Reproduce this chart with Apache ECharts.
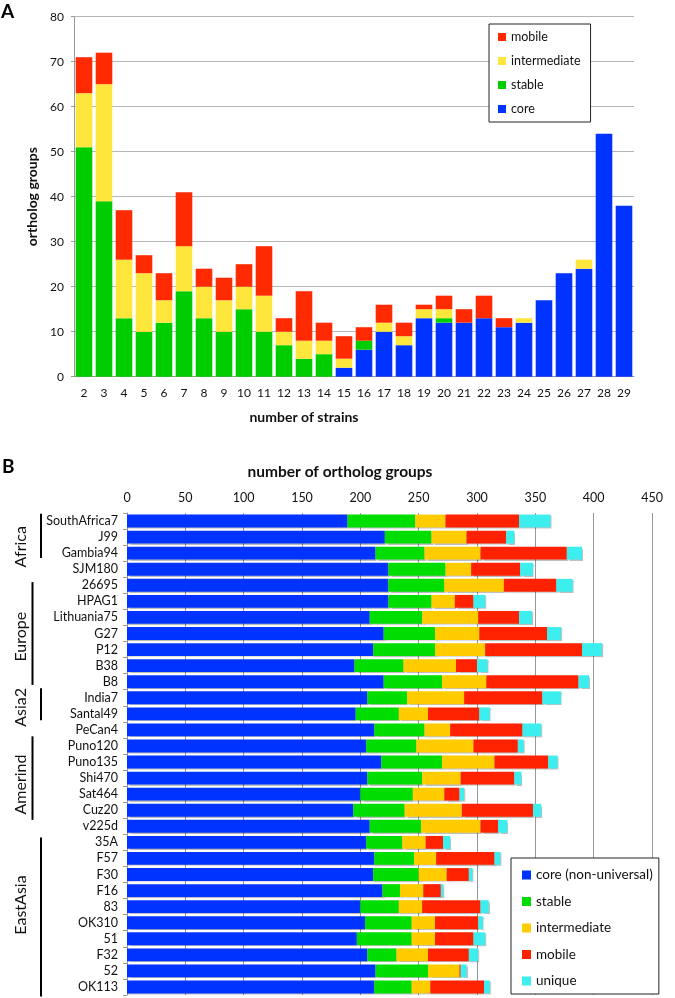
<!DOCTYPE html>
<html><head><meta charset="utf-8">
<script src="https://cdn.jsdelivr.net/npm/echarts@6/dist/echarts.min.js"></script>
<style>html,body{margin:0;padding:0;background:#fff}#c{width:675px;height:998px}</style>
</head><body><div id="c"></div>
<script>
// ---------- Panel A data ----------
const strainCounts = ['2','3','4','5','6','7','8','9','10','11','12','13','14','15','16','17','18','19','20','21','22','23','24','25','26','27','28','29'];
const coreA =         [0,0,0,0,0,0,0,0,0,0,0,0,0, 2,6,10,7,13,12,12,13,11,12,17,23,24,54,38];
const stableA =       [51,39,13,10,12,19,13,10,15,10,7,4,5, 0,2,0,0,0,1, 0,0,0,0,0,0,0,0,0];
const intermediateA = [12,26,13,13,5,10,7,7,5,8,3,4,3, 2,0,2,2,2,2,0,0,0,1,0,0,2,0,0];
const mobileA =       [8,7,11,4,6,12,4,5,5,11,3,11,4, 5,3,4,3,1,3,3,5,2,0,0,0,0,0,0];
const yTicksA = [0,10,20,30,40,50,60,70,80];

// ---------- Panel B data ----------
const strains = ['SouthAfrica7','J99','Gambia94','SJM180','26695','HPAG1','Lithuania75','G27','P12','B38','B8','India7','Santal49','PeCan4','Puno120','Puno135','Shi470','Sat464','Cuz20','v225d','35A','F57','F30','F16','83','OK310','51','F32','52','OK113'];
const coreB =         [189,221,213,224,224,224,208,220,211,195,220,206,196,212,205,218,206,200,194,208,205,212,211,219,200,204,197,206,213,212];
const stableB =       [58,40,42,49,48,37,45,44,53,42,50,34,37,43,43,52,47,45,44,44,31,34,39,15,33,40,47,25,45,32];
const intermediateB = [26,30,48,22,51,20,48,38,43,45,38,49,25,22,49,45,33,27,49,51,20,19,24,20,20,20,20,27,27,16];
const mobileB =       [63,34,74,42,45,16,35,58,83,18,79,67,44,62,38,46,46,13,61,15,15,50,19,15,50,37,33,35,1,46];
const uniqueB =       [27,7,13,11,14,10,11,12,17,9,9,16,9,16,5,8,6,4,7,8,6,5,3,2,7,4,10,8,5,5];
const xTicksB = [0,50,100,150,200,250,300,350,400,450];
const regions = [
  {name:'Africa',   from:'SouthAfrica7', to:'SJM180'},
  {name:'Europe',   from:'26695',        to:'B8'},
  {name:'Asia2',    from:'India7',       to:'Santal49'},
  {name:'Amerind',  from:'PeCan4',       to:'v225d'},
  {name:'EastAsia', from:'35A',          to:'OK113'}
];

const FONT = 'Lato, "Open Sans", sans-serif';
const C = {
  coreA:'#0033FF', stableA:'#00CC00', interA:'#FFE63C', mobileA:'#FF2A00',
  coreB:'#0033FF', stableB:'#00DD00', interB:'#FFCC00', mobileB:'#FF2200', uniqueB:'#3CEEEE'
};

const chart = echarts.init(document.getElementById('c'), null, {renderer:'canvas'});

function barA(name, data, color){
  return {name, type:'bar', stack:'A', xAxisIndex:0, yAxisIndex:0, data,
    barCategoryGap:'17%', itemStyle:{color}, emphasis:{disabled:true}};
}
function barB(name, data, color){
  return {name, type:'bar', stack:'B', xAxisIndex:1, yAxisIndex:1, data,
    barCategoryGap:'20%', itemStyle:{color, shadowColor:'rgba(0,0,0,0.25)', shadowBlur:1, shadowOffsetY:1, shadowOffsetX:1}, emphasis:{disabled:true}};
}
// names in panel B made distinct with zero-width space so legend colours stay separate
const ZW = '\u200B';

const option = {
  animation:false,
  textStyle:{fontFamily:FONT},
  grid:[
    {left:74, top:16.7, width:560, height:360},
    {left:127, top:513, width:525, height:482}
  ],
  xAxis:[
    {type:'category', gridIndex:0, data:strainCounts,
     axisLine:{lineStyle:{color:'#999'}},
     axisTick:{alignWithLabel:false, length:4, lineStyle:{color:'#999'}},
     axisLabel:{color:'#111', fontSize:12, margin:10, interval:0, fontFamily:FONT}},
    {type:'value', gridIndex:1, position:'top', min:0, max:450, interval:50,
     axisLine:{show:false}, axisTick:{show:false},
     axisLabel:{color:'#111', fontSize:12.5, margin:9, fontFamily:FONT},
     splitLine:{show:true, lineStyle:{color:'#999', width:1}}}
  ],
  yAxis:[
    {type:'value', gridIndex:0, min:0, max:80, interval:10,
     axisLine:{show:true, lineStyle:{color:'#999'}},
     axisTick:{show:true, length:3, lineStyle:{color:'#999'}},
     axisLabel:{color:'#111', fontSize:12, margin:10, fontFamily:FONT},
     splitLine:{show:true, lineStyle:{color:'#b5b5b5', width:1}},
     name:'ortholog groups', nameLocation:'middle', nameGap:23,
     nameTextStyle:{fontWeight:'bold', fontSize:14, color:'#111', fontFamily:FONT}},
    {type:'category', gridIndex:1, data:strains, inverse:true,
     axisLine:{show:true, lineStyle:{color:'#999'}},
     axisTick:{show:true, length:4, lineStyle:{color:'#999'}},
     axisLabel:{color:'#111', fontSize:12.5, margin:9, interval:0, fontFamily:FONT}}
  ],
  legend:[
    {data:['mobile','intermediate','stable','core'], orient:'vertical', left:489, top:24,
     itemWidth:8, itemHeight:8, itemGap:10, icon:'rect', padding:[6,10,6,9],
     borderColor:'#222', borderWidth:1, backgroundColor:'#fff',
     textStyle:{fontSize:12.5, color:'#111', fontFamily:FONT, lineHeight:14}, selectedMode:false},
    {data:['core (non-universal)','stable'+ZW,'intermediate'+ZW,'mobile'+ZW,'unique'], orient:'vertical', left:511, top:858,
     itemWidth:9, itemHeight:9, itemGap:10.5, icon:'rect', padding:[9,6,5,11],
     borderColor:'#222', borderWidth:1, backgroundColor:'#fff',
     textStyle:{fontSize:13.5, color:'#111', fontFamily:FONT, lineHeight:16}, selectedMode:false}
  ],
  series:[
    barA('core', coreA, C.coreA),
    barA('stable', stableA, C.stableA),
    barA('intermediate', intermediateA, C.interA),
    barA('mobile', mobileA, C.mobileA),
    barB('core (non-universal)', coreB, C.coreB),
    barB('stable'+ZW, stableB, C.stableB),
    barB('intermediate'+ZW, intermediateB, C.interB),
    barB('mobile'+ZW, mobileB, C.mobileB),
    barB('unique', uniqueB, C.uniqueB)
  ]
};
chart.setOption(option);

// ---------- annotations (positions derived from the category axis) ----------
function rowPx(r){
  const p0 = chart.convertToPixel({yAxisIndex:1}, 0);
  const p1 = chart.convertToPixel({yAxisIndex:1}, 1);
  return p0 + (p1 - p0) * r;
}
const lineSpans = [[-0.45,2.3,41],[3.8,10.2,32.5],[10.4,12.4,41],[13.4,18.6,32.5],[19.7,29.6,41]];
const textRow = [1.6, 7.2, 11.6, 16.4, 23.9];

const g = [];
g.push({type:'text', left:1, top:2, style:{text:'A', font:'bold 19px '+FONT, fill:'#000'}});
g.push({type:'text', left:2, top:457, style:{text:'B', font:'bold 19px '+FONT, fill:'#000'}});
g.push({type:'text', x:304, y:417, style:{text:'number of strains', font:'bold 14px '+FONT, fill:'#111', align:'center', verticalAlign:'middle', textAlign:'center', textVerticalAlign:'middle'}});
g.push({type:'text', x:340, y:472, style:{text:'number of ortholog groups', font:'bold 15.5px '+FONT, fill:'#111', align:'center', verticalAlign:'middle', textAlign:'center', textVerticalAlign:'middle'}});
regions.forEach((rg, i) => {
  const s = lineSpans[i];
  g.push({type:'line', shape:{x1:s[2], y1:rowPx(s[0]), x2:s[2], y2:rowPx(s[1])}, style:{stroke:'#000', lineWidth:2}});
  g.push({type:'text', x:21, y:rowPx(textRow[i]), rotation:Math.PI/2,
    style:{text:rg.name, font:'16px '+FONT, fill:'#111', align:'center', verticalAlign:'middle', textAlign:'center', textVerticalAlign:'middle'}});
});
chart.setOption({graphic:g});
</script>
</body></html>
